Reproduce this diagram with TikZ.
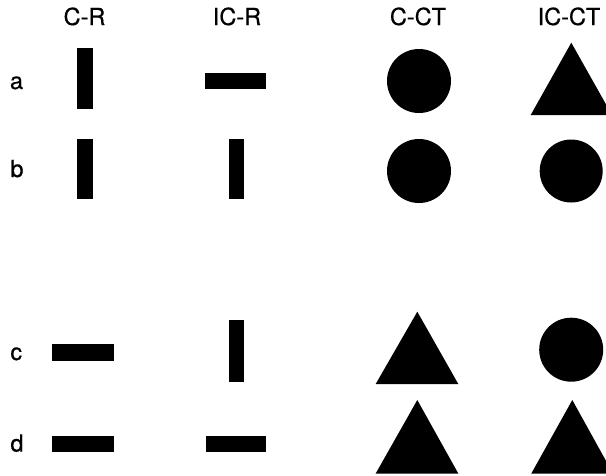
\documentclass[tikz,border=0pt]{standalone}
\usepackage{fontspec}
\newfontfamily\labelfont[FakeBold=0.6]{TeX Gyre Heros}
\begin{document}
\begin{tikzpicture}[x=1pt,y=-1pt,
  lbl/.style={font=\labelfont\fontsize{23.5}{23.5}\selectfont, inner sep=0pt, anchor=base},
  shp/.style={fill=black}]
\useasboundingbox (0,0) rectangle (606,475);

% column headings
\node[lbl] (hCR)   at (84.5,25) {C-R};
\node[lbl] (hICR)  at (237,25)  {IC-R};
\node[lbl] (hCCT)  at (418,25)  {C-CT};
\node[lbl] (hICCT) at (569,25)  {IC-CT};

% row letters
\node[lbl] (ra) at (16.5,89)  {a};
\node[lbl] (rb) at (17,177)   {b};
\node[lbl] (rc) at (16.3,360) {c};
\node[lbl] (rd) at (17,451.5) {d};

% row a
\fill[shp] (77.3,47.7) rectangle (93.3,109.3);
\fill[shp] (205,72.7) rectangle (265.7,88.7);
\fill[shp] (419,81) circle (32);
\fill[shp] (571.3,42.7) -- (612,115) -- (530.7,115) -- cycle;

% row b
\fill[shp] (77.3,139) rectangle (93.3,199.3);
\fill[shp] (229.3,139) rectangle (244.3,199.3);
\fill[shp] (419,171) circle (32);
\fill[shp] (571.2,171) circle (31.5);

% row c
\fill[shp] (52.3,344.3) rectangle (114.3,360.7);
\fill[shp] (229.3,320) rectangle (244.3,382.3);
\fill[shp] (417.3,311.7) -- (458.3,384) -- (375.7,384) -- cycle;
\fill[shp] (571.2,349.7) circle (32);

% row d
\fill[shp] (52.3,436) rectangle (114.3,452.3);
\fill[shp] (205.7,436) rectangle (266,452.3);
\fill[shp] (417.3,400) -- (458.3,473.5) -- (375.7,473.5) -- cycle;
\fill[shp] (572.3,400) -- (613,473.5) -- (531.3,473.5) -- cycle;
\end{tikzpicture}
\end{document}
